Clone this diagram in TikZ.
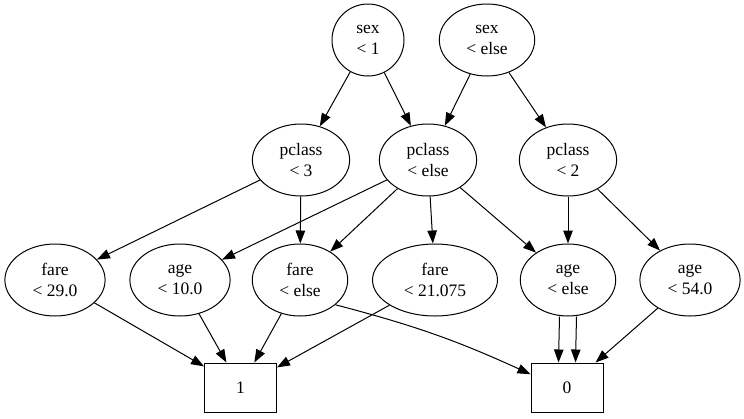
\documentclass[tikz,border=0pt]{standalone}
\usepackage{fontspec}
\setmainfont{Liberation Serif}
\usetikzlibrary{arrows.meta}
\usetikzlibrary{shapes.geometric}
\usetikzlibrary{positioning}

\begin{document}
\begin{tikzpicture}[x=1pt,y=-1pt,line width=1pt,>={Triangle[length=13pt,width=9.5pt]},
  every node/.style={draw,ellipse,align=center,inner xsep=13pt,inner ysep=0pt,minimum width=72pt,minimum height=72pt,font=\fontsize{17.5}{21}\selectfont},
  leaf/.style={rectangle,minimum width=72pt,minimum height=49pt,inner sep=0pt}]
  \useasboundingbox (0,0) rectangle (744,418);
  % splits on sex
  \node (s1) at (368,40) {sex\\< 1};
  \node (s2) at (487,40) {sex\\< else};
  % splits on pclass
  \node (p3) at (301,160) {pclass\\< 3};
  \node (pE) at (428,160) {pclass\\< else};
  \node (p2) at (568,160) {pclass\\< 2};
  % splits on fare and age
  \node (f29) at (55,280) {fare\\< 29.0};
  \node (a10) at (180,280) {age\\< 10.0};
  \node (fE) at (300,280) {fare\\< else};
  \node (f21) at (435,280) {fare\\< 21.075};
  \node (aE) at (568,280) {age\\< else};
  \node (a54) at (690,280) {age\\< 54.0};
  % leaves
  \node[leaf] (one) at (240.5,387.5) {1};
  \node[leaf] (zero) at (567,387.5) {0};
  \draw[->](s1)--(p3);
  \draw[->](s1)--(pE);
  \draw[->](s2)--(pE);
  \draw[->](s2)--(p2);
  \draw[->](p3)--(f29);
  \draw[->](p3)--(fE);
  \draw[->](pE)--(a10);
  \draw[->](pE)--(fE);
  \draw[->](pE)--(f21);
  \draw[->](pE)--(aE);
  \draw[->](p2)--(aE);
  \draw[->](p2)--(a54);
  \draw[->](f29)--(one);
  \draw[->](a10)--(one);
  \draw[->](fE)--(one);
  \draw[->](f21)--(one);
  \draw[->](fE.-35) to[bend left=5] (zero.160);
  \draw[->]([xshift=-8.5pt]aE.south)--([xshift=-8.5pt]zero.north);
  \draw[->]([xshift=8.5pt]aE.south)--([xshift=8.5pt]zero.north);
  \draw[->](a54)--(zero);
\end{tikzpicture}
\end{document}
